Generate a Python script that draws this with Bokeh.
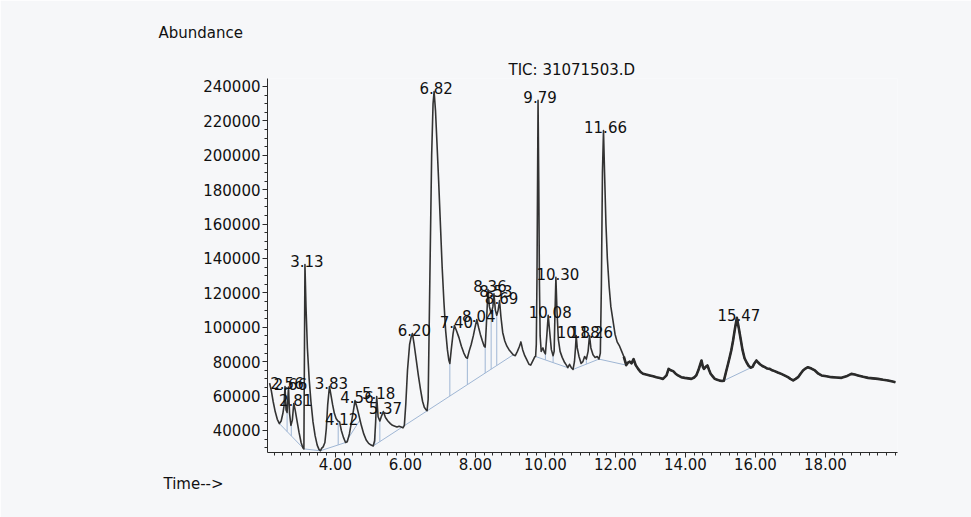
from bokeh.plotting import figure
from bokeh.models import Title, FixedTicker, NumeralTickFormatter, Range1d, ColumnDataSource
from bokeh.core.properties import value
from bokeh.embed import file_html
from bokeh.resources import INLINE
import numpy as np

# Total ion chromatogram, retention time (min) vs abundance
trace_time = [
    2.12, 2.17, 2.22, 2.28, 2.34, 2.40, 2.45, 2.50, 2.53, 2.56, 2.59, 2.62, 2.66, 2.69, 2.73, 2.77,
    2.81, 2.85, 2.90, 2.96, 3.02, 3.07, 3.10, 3.13, 3.16, 3.20, 3.25, 3.30, 3.36, 3.42, 3.48, 3.53,
    3.57, 3.61, 3.65, 3.70, 3.74, 3.78, 3.83, 3.87, 3.92, 3.97, 4.02, 4.07, 4.12, 4.17, 4.23, 4.29,
    4.34, 4.40, 4.46, 4.51, 4.56, 4.61, 4.67, 4.74, 4.81, 4.88, 4.95, 5.02, 5.08, 5.12, 5.15, 5.18,
    5.22, 5.27, 5.32, 5.37, 5.43, 5.50, 5.57, 5.63, 5.70, 5.76, 5.82, 5.88, 5.93, 5.97, 6.01, 6.06,
    6.12, 6.16, 6.20, 6.25, 6.31, 6.37, 6.43, 6.49, 6.54, 6.59, 6.62, 6.65, 6.70, 6.75, 6.79, 6.82,
    6.86, 6.90, 6.95, 7.00, 7.05, 7.10, 7.15, 7.20, 7.24, 7.27, 7.31, 7.36, 7.40, 7.46, 7.53, 7.60,
    7.67, 7.73, 7.77, 7.82, 7.88, 7.94, 7.99, 8.04, 8.09, 8.14, 8.20, 8.25, 8.28, 8.31, 8.36, 8.40,
    8.45, 8.50, 8.53, 8.57, 8.61, 8.65, 8.69, 8.73, 8.78, 8.84, 8.90, 8.96, 9.02, 9.08, 9.14, 9.20,
    9.26, 9.30, 9.35, 9.41, 9.47, 9.53, 9.58, 9.64, 9.70, 9.72, 9.74, 9.76, 9.79, 9.81, 9.83, 9.85,
    9.88, 9.93, 9.97, 10.00, 10.04, 10.08, 10.12, 10.17, 10.22, 10.25, 10.27, 10.30, 10.33, 10.37,
    10.42, 10.48, 10.55, 10.60, 10.64, 10.69, 10.74, 10.79, 10.83, 10.86, 10.88, 10.91, 10.96,
    11.02, 11.07, 11.12, 11.17, 11.22, 11.26, 11.30, 11.36, 11.42, 11.48, 11.53, 11.57, 11.60,
    11.63, 11.66, 11.69, 11.73, 11.77, 11.82, 11.87, 11.93, 11.99, 12.05, 12.12, 12.18, 12.24,
    12.31, 12.36, 12.41, 12.46, 12.52, 12.58, 12.65, 12.72, 12.79, 12.88, 12.98, 13.08, 13.17,
    13.27, 13.36, 13.46, 13.52, 13.58, 13.65, 13.72, 13.79, 13.88, 13.98, 14.08, 14.17, 14.25,
    14.31, 14.37, 14.41, 14.46, 14.50, 14.53, 14.58, 14.63, 14.68, 14.72, 14.78, 14.84, 14.91,
    14.98, 15.05, 15.10, 15.16, 15.22, 15.27, 15.31, 15.36, 15.41, 15.47, 15.53, 15.58, 15.63,
    15.69, 15.75, 15.81, 15.87, 15.92, 15.97, 16.03, 16.08, 16.13, 16.20, 16.27, 16.34, 16.41,
    16.48, 16.55, 16.64, 16.74, 16.83, 16.93, 17.00, 17.08, 17.15, 17.22, 17.29, 17.36, 17.43,
    17.50, 17.60, 17.70, 17.80, 17.89, 18.03, 18.17, 18.31, 18.46, 18.60, 18.74, 18.84, 18.93,
    19.08, 19.22, 19.36, 19.50, 19.65, 19.79, 19.92, 20.00,
]
trace_abundance = [
    67500, 63000, 57000, 51000, 46500, 44000, 45500, 50000, 54000, 65600, 52000, 50500, 65300, 50000, 43000, 46000,
    55700, 52000, 46000, 39000, 33000, 30000, 29300, 136500, 112000, 88000, 70000, 57000, 45000, 37000, 31500, 29000,
    28200, 29800, 30500, 33000, 41000, 55000, 65600, 61000, 55000, 50000, 47000, 45500, 45000, 40000, 36000, 33000,
    33500, 38000, 45000, 51000, 57400, 54000, 49000, 43000, 38000, 34500, 32500, 31500, 31000, 34000, 45000, 59800,
    48000, 45500, 48500, 51000, 47500, 45500, 44000, 43000, 42500, 42000, 42500, 42000, 41500, 43000, 55000, 75000,
    90000, 94000, 96400, 90000, 81000, 72000, 64000, 57000, 53500, 52000, 51500, 58000, 130000, 200000, 230000, 237100,
    226000, 208000, 185000, 160000, 135000, 115000, 98000, 87000, 81000, 79000, 87000, 96000, 101000, 98000, 94000, 89000,
    85000, 82500, 82000, 86000, 90000, 95000, 100000, 104500, 100000, 96000, 92000, 89000, 88500, 100000, 122000, 112000,
    108000, 112000, 119500, 110000, 107000, 110000, 115500, 106000, 97000, 92000, 89000, 87000, 85500, 84000, 83500, 86000,
    89000, 91500, 87000, 83500, 81000, 78500, 78000, 80500, 83000, 83000, 90000, 130000, 232000, 185000, 125000, 95000,
    86000, 88000, 85500, 84500, 95000, 106900, 98000, 87000, 83500, 86000, 105000, 129000, 110000, 93000,
    86000, 82500, 79500, 78000, 76500, 78500, 76500, 75500, 80000, 88000, 95200, 88000, 83000,
    79000, 80000, 83000, 81500, 86000, 95200, 88000, 84000, 82500, 83000, 81500, 85000, 125000,
    190000, 214400, 190000, 160000, 140000, 124000, 112000, 104000, 96000, 91500, 89000, 86000, 83000,
    78000, 79500, 80000, 79000, 81500, 78000, 75800, 74000, 73000, 72500, 72000, 71500, 71000,
    70500, 70000, 72000, 75800, 75000, 74500, 73000, 72000, 71000, 70600, 70300, 70000, 70800,
    72000, 75000, 77500, 80700, 77000, 75800, 77000, 77800, 75000, 73000, 71500, 70000, 69500,
    69000, 68800, 69000, 74000, 78800, 83000, 86500, 92000, 98500, 105500, 99000, 93000, 87000,
    82000, 79500, 77500, 76500, 77000, 79000, 80700, 79500, 78500, 77500, 76800, 76000, 75800,
    75000, 74500, 73700, 72900, 72000, 71000, 70000, 69100, 70000, 71000, 73000, 74900, 76000,
    76800, 76000, 74900, 73000, 72000, 71500, 71000, 70800, 70600, 71500, 72900, 72500, 72000,
    71200, 70600, 70300, 70000, 69500, 69100, 68500, 68100,
]

# Integrated peaks (retention time, min)
peak_rt = [2.56, 2.66, 2.81, 3.13, 3.83, 4.12, 4.56, 5.18, 5.37, 6.20, 6.82, 7.40, 8.04,
           8.36, 8.53, 8.69, 9.79, 10.08, 10.30, 10.88, 11.26, 11.66, 15.47]

# Integration baselines: start/end points
base_t0 = [2.40, 3.10, 3.57, 4.29, 5.08, 9.72, 10.79, 11.53, 15.10]
base_a0 = [44000, 29300, 28200, 33000, 31000, 83000, 75500, 81500, 69000]
base_t1 = [3.10, 3.57, 4.29, 4.70, 9.08, 10.64, 11.53, 12.31, 15.87]
base_a1 = [29300, 28200, 33000, 46000, 84000, 76500, 81500, 78000, 76500]

# Peak split points (vertical drop to baseline)
drop_rt = [2.62, 2.74, 4.08, 5.13, 5.27, 6.62, 7.27, 7.77, 8.28, 8.45, 8.61, 10.00, 10.22, 11.17]

ink = "#2b2b2b"
paper = "#f6f7f9"
base_color = "#9fb6d4"
font = "DejaVu Sans"
text_color = "#111111"

p = figure(width=971, height=517, output_backend="svg", toolbar_location=None,
           x_range=Range1d(2.06, 20.06), y_range=Range1d(27200, 244650),
           min_border_left=267, min_border_right=74, min_border_top=78, min_border_bottom=65,
           background_fill_color=paper, border_fill_color=paper, outline_line_color=None)
p.grid.visible = False

# y axis caption (outermost title slot)
p.title.text = "Abundance"
p.title.align = "left"
p.title.offset = -109
p.title.standoff = 34
p.title.text_font = font
p.title.text_font_size = "15px"
p.title.text_font_style = "normal"
p.title.text_color = text_color

# data file name, just above the frame
p.add_layout(Title(text="TIC: 31071503.D", align="left", offset=241, standoff=0, text_font=font,
                   text_font_size="15px", text_font_style="normal", text_color=text_color), "above")
# x axis caption
p.add_layout(Title(text="Time-->", align="left", offset=-104, standoff=0, text_font=font,
                   text_font_size="15px", text_font_style="normal", text_color=text_color), "below")

# baselines
p.segment(x0=base_t0, y0=base_a0, x1=base_t1, y1=base_a1, line_color=base_color, line_width=1)

# drop lines from curve to baseline
t_arr = np.array(trace_time, dtype=float)
a_arr = np.array(trace_abundance, dtype=float)
dx, dy0, dy1 = [], [], []
for t in drop_rt:
    for s0, v0, s1, v1 in zip(base_t0, base_a0, base_t1, base_a1):
        if s0 <= t <= s1:
            dx.append(t)
            dy0.append(float(np.interp(t, t_arr, a_arr)))
            dy1.append(v0 + (v1 - v0) * (t - s0) / (s1 - s0))
            break
p.segment(x0=dx, y0=dy0, x1=dx, y1=dy1, line_color=base_color, line_width=1)

# chromatogram trace
p.line(trace_time, trace_abundance, line_color="#333333", line_width=1.6, line_join="round")
tail = t_arr >= 12.2
p.line(t_arr[tail], a_arr[tail], line_color=ink, line_width=2.6, line_join="round")

# peak labels, placed just above each apex
peak_height = [trace_abundance[trace_time.index(t)] for t in peak_rt]
src = ColumnDataSource(dict(x=peak_rt, y=[h + 1800 for h in peak_height],
                            text=["%.2f" % t for t in peak_rt]))
p.text(x="x", y="y", text="text", source=src, text_align="center", text_baseline="alphabetic",
       text_font=value(font), text_font_size="15px", text_color=text_color, x_offset=2)

# axes
p.xaxis.ticker = FixedTicker(ticks=[4, 6, 8, 10, 12, 14, 16, 18],
                             minor_ticks=[2 + 0.25 * i for i in range(73)])
p.xaxis.formatter = NumeralTickFormatter(format="0.00")
p.yaxis.ticker = FixedTicker(ticks=list(range(40000, 240001, 20000)),
                             minor_ticks=list(range(30000, 245001, 5000)))
p.yaxis.formatter = NumeralTickFormatter(format="0")
for ax in (p.xaxis, p.yaxis):
    ax.axis_line_color = ink
    ax.major_tick_line_color = ink
    ax.minor_tick_line_color = ink
    ax.major_tick_out = 5
    ax.major_tick_in = 0
    ax.minor_tick_out = 3
    ax.minor_tick_in = 0
    ax.major_label_text_font = font
    ax.major_label_text_font_size = "15px"
    ax.major_label_text_color = text_color
p.xaxis.major_label_standoff = 0
p.yaxis.major_label_standoff = 2

open("out.html", "w").write(file_html(p, INLINE))
